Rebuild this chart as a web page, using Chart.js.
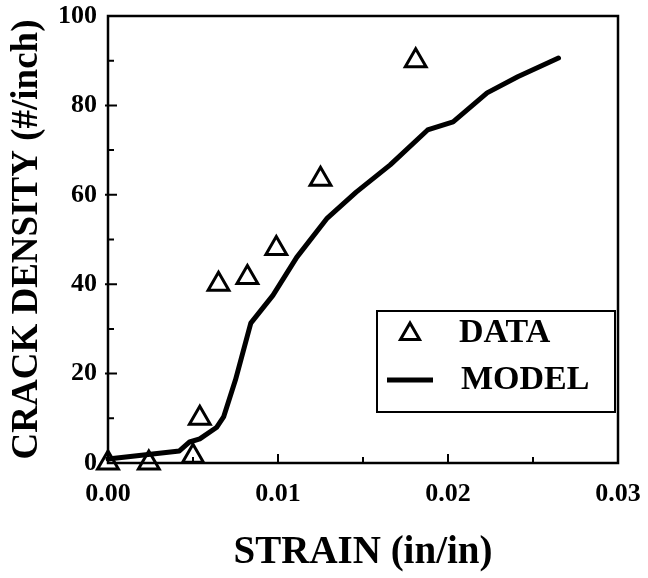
<!DOCTYPE html>
<html>
<head>
<meta charset="utf-8">
<script src="https://cdn.jsdelivr.net/npm/chart.js@4/dist/chart.umd.min.js"></script>
<style>
  body{margin:0;background:#fff}
  #box{width:648px;height:578px}
</style>
</head>
<body>
<div id="box"><canvas id="myChart"></canvas></div>
<script>
// measured points (triangles)
let strainData=[0.0, 0.0024, 0.005, 0.0054, 0.0065, 0.0082, 0.0099, 0.0125, 0.0181]
let densityData=[0, 0, 1.5, 10, 40, 41.5, 48, 63.5, 90]

// model curve
let modelStrain=[0, 0.0042, 0.0048, 0.0054, 0.0064, 0.0068, 0.0075, 0.0084, 0.0097, 0.0111, 0.0129, 0.0146, 0.0166, 0.0188, 0.0203, 0.0223, 0.0241, 0.0265]
let modelDensity=[0.9, 2.7, 4.7, 5.4, 8, 10.3, 18.6, 31.3, 37.5, 46, 54.8, 60.6, 66.7, 74.5, 76.3, 82.8, 86.4, 90.6]

let xMajor=[0.01, 0.02]
let xMinor=[0.005, 0.015, 0.025]
let yMajor=[20, 40, 60, 80]
let yMinor=[10, 30, 50, 70, 90]

let serif='"Liberation Serif", "Times New Roman", serif'

function toPoints(xs, ys){
  return xs.map((x,i)=>({x:x, y:ys[i]}))
}

// frame, inward ticks and the boxed legend
let framePlugin={
  id:'frame',
  afterDraw(chart){
    let ctx=chart.ctx
    let ca=chart.chartArea
    let xs=chart.scales.x
    let ys=chart.scales.y
    ctx.save()
    ctx.strokeStyle='#000'
    ctx.lineWidth=2.5
    ctx.strokeRect(ca.left, ca.top, ca.right-ca.left, ca.bottom-ca.top)

    ctx.lineWidth=2
    ctx.beginPath()
    yMajor.forEach(v=>{
      let p=ys.getPixelForValue(v)
      ctx.moveTo(ca.left-3, p); ctx.lineTo(ca.left+9, p)
    })
    yMinor.forEach(v=>{
      let p=ys.getPixelForValue(v)
      ctx.moveTo(ca.left, p); ctx.lineTo(ca.left+6, p)
    })
    xMajor.forEach(v=>{
      let p=xs.getPixelForValue(v)
      ctx.moveTo(p, ca.bottom); ctx.lineTo(p, ca.bottom-9)
    })
    xMinor.forEach(v=>{
      let p=xs.getPixelForValue(v)
      ctx.moveTo(p, ca.bottom); ctx.lineTo(p, ca.bottom-6)
    })
    ctx.stroke()

    // legend box
    let right=ca.right-3
    let bottom=ca.bottom-51
    let w=238, h=101
    let left=right-w, top=bottom-h
    ctx.lineWidth=2
    ctx.strokeRect(left, top, w, h)

    // triangle symbol
    let tx=left+33, ty=top+23, r=11
    ctx.lineWidth=3
    ctx.beginPath()
    for(let k=0;k<3;k++){
      let a=k*2*Math.PI/3
      let px=tx+Math.sin(a)*r, py=ty-Math.cos(a)*r
      if(k==0) ctx.moveTo(px,py); else ctx.lineTo(px,py)
    }
    ctx.closePath()
    ctx.stroke()

    // line symbol
    ctx.lineWidth=5
    ctx.beginPath()
    ctx.moveTo(left+10, top+69)
    ctx.lineTo(left+56, top+69)
    ctx.stroke()

    ctx.fillStyle='#000'
    ctx.font='bold 34px '+serif
    ctx.textBaseline='middle'
    ctx.textAlign='left'
    ctx.fillText('DATA', left+82, top+22)
    ctx.fillText('MODEL', left+84, top+69)
    ctx.restore()
  }
}

let ctx=document.getElementById('myChart').getContext('2d')
let myChart=new Chart(ctx, {
  type:'scatter',
  data:{
    datasets:[
      {
        label:'DATA',
        data:toPoints(strainData, densityData),
        pointStyle:'triangle',
        pointRadius:12,
        pointBorderWidth:3,
        pointBorderColor:'#000',
        pointBackgroundColor:'rgba(255,255,255,0)',
        showLine:false,
        clip:false,
        order:1
      },
      {
        label:'MODEL',
        data:toPoints(modelStrain, modelDensity),
        showLine:true,
        borderColor:'#000',
        borderWidth:5,
        pointRadius:0,
        tension:0,
        borderCapStyle:'round',
        borderJoinStyle:'round',
        clip:false,
        order:2
      }
    ]
  },
  options:{
    responsive:true,
    maintainAspectRatio:false,
    animation:false,
    layout:{padding:{top:16, right:30, left:0, bottom:0}},
    plugins:{
      legend:{display:false},
      tooltip:{enabled:false}
    },
    scales:{
      x:{
        type:'linear',
        min:0, max:0.03,
        afterFit(scale){
          scale.height=115
          scale.paddingLeft=0
          scale.paddingRight=0
        },
        grid:{display:false, drawTicks:false},
        border:{display:false},
        ticks:{
          stepSize:0.01,
          padding:16,
          color:'#000',
          font:{family:serif, size:26, weight:'bold'},
          callback:v=>v.toFixed(2)
        },
        title:{
          display:true,
          text:'STRAIN (in/in)',
          color:'#000',
          font:{family:serif, size:39, weight:'bold'},
          padding:{top:0, bottom:2}
        }
      },
      y:{
        min:0, max:100,
        afterFit(scale){
          scale.width=108
          scale.paddingTop=0
          scale.paddingBottom=0
        },
        grid:{display:false, drawTicks:false},
        border:{display:false},
        ticks:{
          stepSize:20,
          padding:11,
          color:'#000',
          font:{family:serif, size:26, weight:'bold'}
        },
        title:{
          display:true,
          text:'CRACK DENSITY (#/inch)',
          color:'#000',
          font:{family:serif, size:37, weight:'bold'},
          padding:{top:5, bottom:0}
        }
      }
    }
  },
  plugins:[framePlugin]
})
</script>
</body>
</html>
